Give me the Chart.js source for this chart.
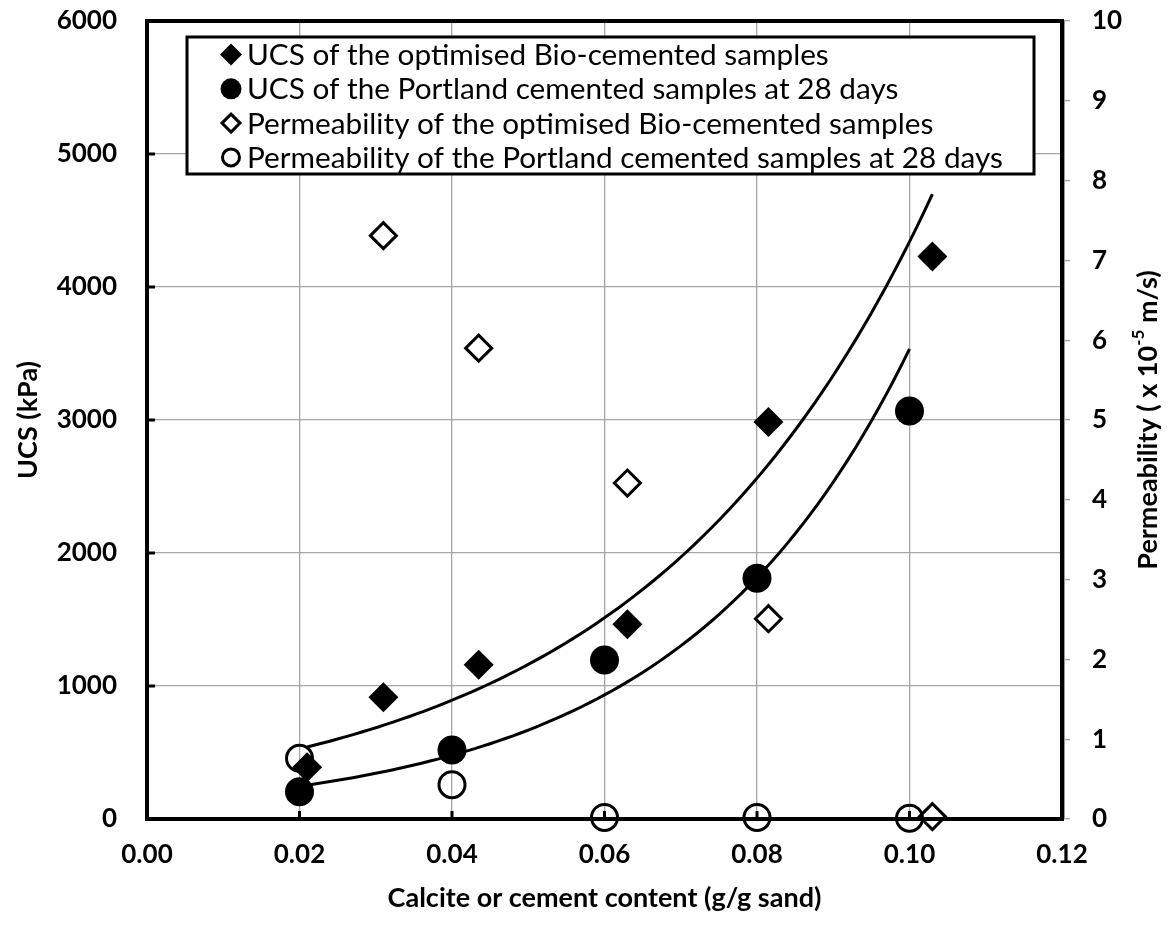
<!DOCTYPE html>
<html>
<head>
<meta charset="utf-8">
<script src="https://cdn.jsdelivr.net/npm/chart.js@4.4.1/dist/chart.umd.min.js"></script>
<style>
html,body{margin:0;padding:0;background:#fff;}
#wrap{width:1171px;height:929px;position:relative;}
</style>
</head>
<body>
<div id="wrap"><canvas id="c" width="1171" height="929"></canvas></div>
<script>
// ---- data ----
const seriesLabels = [
  'UCS of the optimised Bio-cemented samples',
  'UCS of the Portland cemented samples at 28 days',
  'Permeability of the optimised Bio-cemented samples',
  'Permeability of the Portland cemented samples at 28 days'
];
const bioX      = [0.021, 0.031, 0.0435, 0.063, 0.0815, 0.103];
const bioUCS    = [390, 915, 1160, 1465, 2985, 4230];
const bioPermX  = [0.031, 0.0435, 0.063, 0.0815, 0.103];
const bioPerm   = [7.31, 5.90, 4.21, 2.51, 0.03];
const pcX       = [0.02, 0.04, 0.06, 0.08, 0.10];
const pcUCS     = [205, 519, 1195, 1810, 3068];
const pcPerm    = [0.76, 0.43, 0.02, 0.02, 0.01];
const xTicks    = [0, 0.02, 0.04, 0.06, 0.08, 0.10, 0.12];
const yTicks    = [0, 1000, 2000, 3000, 4000, 5000, 6000];
const y2Ticks   = [0, 1, 2, 3, 4, 5, 6, 7, 8, 9, 10];
const xTitle  = 'Calcite or cement content (g/g sand)';
const yTitle  = 'UCS (kPa)';
const y2TitleParts = ['Permeability ( x 10', '-5', ' m/s)'];

// exponential trendline (least squares on ln y), like a spreadsheet trendline
function expFit(xs, ys) {
  const n = xs.length, ly = ys.map(Math.log);
  const mx = xs.reduce((a, b) => a + b, 0) / n;
  const my = ly.reduce((a, b) => a + b, 0) / n;
  let sxy = 0, sxx = 0;
  for (let i = 0; i < n; i++) { sxy += (xs[i] - mx) * (ly[i] - my); sxx += (xs[i] - mx) ** 2; }
  const b = sxy / sxx;
  return { a: Math.exp(my - b * mx), b };
}
function trendPoints(xs, ys, steps) {
  const f = expFit(xs, ys);
  const x0 = Math.min(...xs), x1 = Math.max(...xs);
  const pts = [];
  for (let i = 0; i <= steps; i++) {
    const x = x0 + (x1 - x0) * i / steps;
    pts.push({ x, y: f.a * Math.exp(f.b * x) });
  }
  return pts;
}
const pairs = (xs, ys) => xs.map((x, i) => ({ x, y: ys[i] }));

const FONT = 'Lato';
const tickFont = { family: FONT, size: 26, weight: 'bold' };
const titleFont = { family: FONT, size: 27, weight: 'bold' };
const GRID = '#a6a6a6';

// frame, inward ticks
const framePlugin = {
  id: 'frame',
  beforeDatasetsDraw(chart) {
    const { ctx, chartArea: a, scales } = chart;
    ctx.save();
    ctx.strokeStyle = '#000';
    ctx.lineWidth = 3;
    xTicks.forEach(v => {
      const px = scales.x.getPixelForValue(v);
      ctx.beginPath(); ctx.moveTo(px, a.bottom); ctx.lineTo(px, a.bottom - 8); ctx.stroke();
    });
    yTicks.forEach(v => {
      const py = scales.y.getPixelForValue(v);
      ctx.beginPath(); ctx.moveTo(a.left, py); ctx.lineTo(a.left + 8, py); ctx.stroke();
    });
    ctx.lineWidth = 4;
    ctx.strokeRect(a.left, a.top, a.right - a.left, a.bottom - a.top);
    ctx.strokeStyle = '#9a9a9a';
    ctx.lineWidth = 1;
    ctx.beginPath(); ctx.moveTo(a.right + 2.5, a.top); ctx.lineTo(a.right + 2.5, a.bottom); ctx.stroke();
    ctx.restore();
  }
};

// right-axis title with superscript
const y2TitlePlugin = {
  id: 'y2title',
  afterDraw(chart) {
    const { ctx, chartArea: a } = chart;
    const big = `bold 27px ${FONT}`, small = `bold 17px ${FONT}`;
    ctx.save();
    ctx.font = big; const w0 = ctx.measureText(y2TitleParts[0]).width; const w2 = ctx.measureText(y2TitleParts[2]).width;
    ctx.font = small; const w1 = ctx.measureText(y2TitleParts[1]).width;
    const total = w0 + w1 + w2;
    ctx.translate(1148, (a.top + a.bottom) / 2);
    ctx.rotate(-Math.PI / 2);
    ctx.fillStyle = '#000';
    ctx.textBaseline = 'middle';
    ctx.textAlign = 'left';
    let x = -total / 2;
    ctx.font = big; ctx.fillText(y2TitleParts[0], x, 0); x += w0;
    ctx.font = small; ctx.fillText(y2TitleParts[1], x, -9); x += w1;
    ctx.font = big; ctx.fillText(y2TitleParts[2], x, 0);
    ctx.restore();
  }
};

// boxed legend inside the plot
function drawMarker(ctx, kind, x, y, r) {
  ctx.beginPath();
  if (kind === 'diamond') { ctx.moveTo(x, y - r); ctx.lineTo(x + r, y); ctx.lineTo(x, y + r); ctx.lineTo(x - r, y); ctx.closePath(); }
  else { ctx.arc(x, y, r, 0, Math.PI * 2); }
}
const legendPlugin = {
  id: 'boxLegend',
  afterDraw(chart) {
    const { ctx, chartArea: a } = chart;
    const bx = a.left + 40, by = a.top + 16, bw = (a.right - 28) - bx, bh = 137;
    ctx.save();
    ctx.fillStyle = '#fff';
    ctx.fillRect(bx, by, bw, bh);
    ctx.strokeStyle = '#000';
    ctx.lineWidth = 3;
    ctx.strokeRect(bx, by, bw, bh);
    ctx.font = `28px ${FONT}`;
    const longest = Math.max(...seriesLabels.map(s => ctx.measureText(s).width));
    const size = 28 * 756 / longest;
    ctx.font = `${size.toFixed(2)}px ${FONT}`;
    ctx.textBaseline = 'middle';
    ctx.textAlign = 'left';
    const styles = [
      { kind: 'diamond', fill: true, r: 11 },
      { kind: 'circle', fill: true, r: 10.5 },
      { kind: 'diamond', fill: false, r: 9 },
      { kind: 'circle', fill: false, r: 8.5 }
    ];
    seriesLabels.forEach((lab, i) => {
      const y = by + 17.5 + i * 34.3;
      const s = styles[i];
      drawMarker(ctx, s.kind, bx + 44, y, s.r);
      if (s.fill) { ctx.fillStyle = '#000'; ctx.fill(); }
      else { ctx.lineWidth = 3; ctx.strokeStyle = '#000'; ctx.stroke(); }
      ctx.fillStyle = '#000';
      ctx.fillText(lab, bx + 60, y + 1);
    });
    ctx.restore();
  }
};

const noEdgePadding = s => { s.paddingTop = 0; s.paddingBottom = 0; };

const ctx = document.getElementById('c').getContext('2d');
new Chart(ctx, {
  type: 'scatter',
  data: {
    datasets: [
      { label: seriesLabels[0], data: pairs(bioX, bioUCS), yAxisID: 'y', pointStyle: 'rectRot', pointRadius: 15,
        backgroundColor: '#000', borderColor: '#000', borderWidth: 0, clip: false },
      { label: seriesLabels[1], data: pairs(pcX, pcUCS), yAxisID: 'y', pointStyle: 'circle', pointRadius: 14.5,
        backgroundColor: '#000', borderColor: '#000', borderWidth: 0, clip: false },
      { label: seriesLabels[2], data: pairs(bioPermX, bioPerm), yAxisID: 'y2', pointStyle: 'rectRot', pointRadius: 13,
        backgroundColor: 'rgba(0,0,0,0)', borderColor: '#000', borderWidth: 3, clip: false },
      { label: seriesLabels[3], data: pairs(pcX, pcPerm), yAxisID: 'y2', pointStyle: 'circle', pointRadius: 13,
        backgroundColor: 'rgba(0,0,0,0)', borderColor: '#000', borderWidth: 3, clip: false },
      { label: 'Expon. (UCS Bio)', data: trendPoints(bioX, bioUCS, 80), yAxisID: 'y', showLine: true,
        borderColor: '#000', borderWidth: 3, pointRadius: 0, pointHoverRadius: 0, fill: false, clip: false },
      { label: 'Expon. (UCS Portland)', data: trendPoints(pcX, pcUCS, 80), yAxisID: 'y', showLine: true,
        borderColor: '#000', borderWidth: 3, pointRadius: 0, pointHoverRadius: 0, fill: false, clip: false }
    ]
  },
  options: {
    responsive: false,
    animation: false,
    events: [],
    layout: { padding: { top: 21, left: 0, right: 0, bottom: 0 } },
    plugins: { legend: { display: false }, tooltip: { enabled: false }, title: { display: false } },
    scales: {
      x: {
        type: 'linear', position: 'bottom', min: 0, max: 0.12,
        afterBuildTicks: s => { s.ticks = xTicks.map(v => ({ value: v })); },
        ticks: { callback: v => Number(v).toFixed(2), font: tickFont, color: '#000', padding: 20, maxRotation: 0, autoSkip: false },
        grid: { color: GRID, lineWidth: 1.3, drawTicks: false },
        border: { display: false },
        title: { display: true, text: xTitle, font: titleFont, color: '#000', padding: { top: 0, bottom: 15 } },
        afterFit: s => { s.height = 110; s.paddingLeft = 0; s.paddingRight = 0; }
      },
      y: {
        type: 'linear', position: 'left', min: 0, max: 6000,
        afterBuildTicks: s => { s.ticks = yTicks.map(v => ({ value: v })); },
        ticks: { callback: v => String(v), font: tickFont, color: '#000', padding: 30, autoSkip: false },
        grid: { color: GRID, lineWidth: 1.3, drawTicks: false },
        border: { display: false },
        title: { display: true, text: yTitle, font: titleFont, color: '#000', padding: { top: 12, bottom: 0 } },
        afterFit: s => { s.width = 147; noEdgePadding(s); }
      },
      y2: {
        type: 'linear', position: 'right', min: 0, max: 10,
        afterBuildTicks: s => { s.ticks = y2Ticks.map(v => ({ value: v })); },
        ticks: { callback: v => String(v), font: tickFont, color: '#000', padding: 22, autoSkip: false },
        grid: { drawOnChartArea: false, drawTicks: true, tickLength: 8, color: GRID, lineWidth: 1.3 },
        border: { display: false },
        title: { display: false },
        afterFit: s => { s.width = 109; noEdgePadding(s); }
      }
    }
  },
  plugins: [framePlugin, legendPlugin, y2TitlePlugin]
});
</script>
</body>
</html>
